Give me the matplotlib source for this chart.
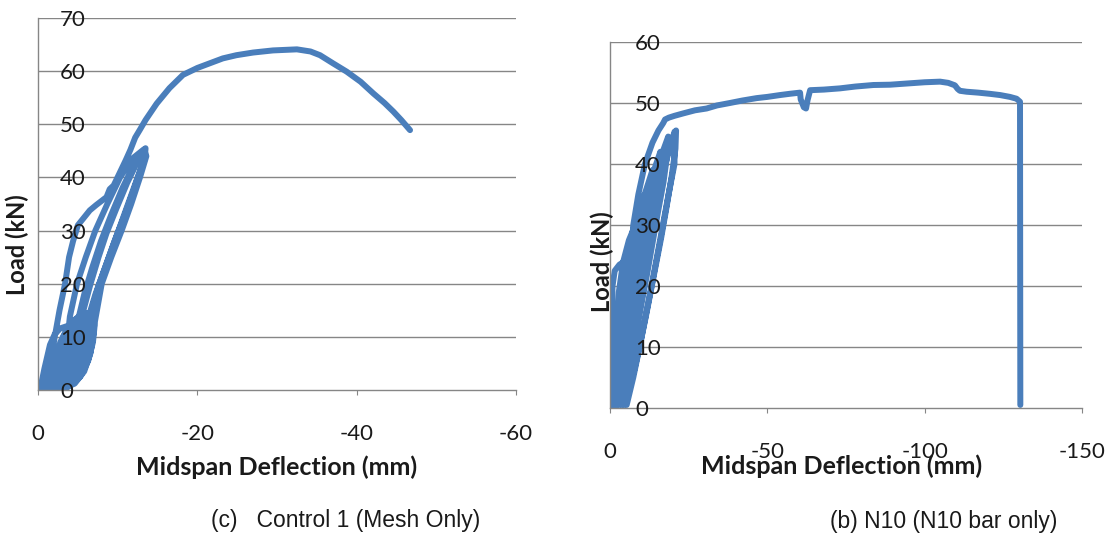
import numpy as np
import matplotlib
matplotlib.use("Agg")
import matplotlib.pyplot as plt

plt.rcParams["axes.unicode_minus"] = False

# (c) Control 1 - midspan deflection (mm) and load (kN)
defl_c = [0, -0.3, -0.8, -1.5, -2.1, -2.8, -4.0, -5.2, -6.2, -6.9,
          # small cycles up to ~14 kN
          -7.1, -6.9, -6.3, -5.3, -3.8, -2.2, -2.5, -3.0, -3.6, -4.6, -6.0, -6.9,
          -6.7, -6.3, -5.5, -4.4, -3.0, -1.8, -2.0, -2.5, -3.2, -4.2, -5.5, -6.8,
          -6.5, -5.9, -5.0, -3.9, -2.6, -1.5, -1.9, -2.8, -3.8, -5.0, -6.5,
          -6.2, -5.4, -4.4, -3.2, -2.0, -2.6, -3.6, -4.6, -5.6, -6.9,
          -7.0, -6.6, -5.8, -4.6, -3.2, -0.5, -2.2, -3.3, -4.4, -5.8, -7.0,
          -6.8, -6.0, -4.8, -3.4, -2.8,
          # cycles up to ~45 kN
          -3.2, -3.6, -4.0, -4.9, -6.0, -7.2, -8.7, -10.3, -11.8, -13.3,
          -13.6, -13.2, -12.8, -11.7, -10.5, -9.2, -8.0, -7.4, -6.8, -5.8, -4.4, -3.0,
          -3.6, -4.3, -5.0, -5.8, -6.8, -7.9, -9.2, -10.6, -11.9, -13.4,
          -13.0, -12.1, -10.9, -9.6, -8.4, -7.2, -6.2, -5.2, -4.2, -3.0,
          -3.9, -4.8, -5.7, -6.6, -7.6, -8.6, -9.8, -11.2, -12.5, -13.5,
          -13.4, -12.5, -11.3, -10.1, -8.9, -7.7, -6.5, -5.3, -4.0, -2.5, -1.2,
          # final loading
          -1.6, -2.1, -2.7, -3.4, -3.9, -4.4, -5.0, -5.7, -6.5, -7.3, -8.0,
          -8.6, -9.0, -9.5, -10.3, -11.0, -11.6, -12.2, -12.8, -13.5, -14.9,
          -16.5, -18.2, -20.0, -21.6, -23.2, -24.9, -27.0, -29.5, -32.5, -34.2,
          -35.4, -37.0, -38.75, -40.5, -42.1, -43.5, -44.6, -45.6, -46.7]
load_c = [0, 0.3, 4, 8.5, 10.5, 11.6, 12.2, 12.6, 13.2, 14.2,
          12, 9, 5.5, 2.5, 0.6, 0.3, 3, 7, 10.5, 13, 14.4, 14.5,
          11, 7.5, 4, 1.5, 0.4, 0.3, 3, 6.5, 10, 12.8, 14.2, 14.3,
          11.5, 8, 4.5, 2, 0.6, 0.3, 4.5, 9, 12, 13.6, 14.1,
          10.5, 6.5, 3.2, 1, 0.3, 4, 8, 11, 13, 14.2,
          11, 7, 3.5, 1.2, 0.3, 0.4, 4.5, 8.5, 11.5, 13.5, 14,
          10, 6, 2.5, 0.6, 0.3,
          3, 8, 13.8, 20, 25, 30, 35, 40, 43.5, 45.3,
          44, 42, 40, 35, 30, 25, 20, 15, 10, 5.5, 2, 0.5,
          3, 8, 13, 18, 23, 28, 33, 38, 42, 45,
          42, 38, 33, 28, 23, 18, 13, 8, 3.5, 0.5,
          4, 9.5, 15, 20, 25, 29.5, 34, 39, 43, 45.5,
          43.5, 40, 35, 30, 25, 20, 14, 8.5, 3.5, 0.6, 0.3,
          5, 10, 15, 20, 25, 28, 31, 32.3, 33.8, 34.8, 35.6,
          36.3, 37.8, 38.5, 41, 43.2, 45.2, 47.5, 49, 50.8, 53.9,
          56.8, 59.3, 60.6, 61.5, 62.4, 63.0, 63.5, 63.9, 64.1, 63.7,
          63.0, 61.5, 59.9, 58.0, 55.8, 54, 52.4, 50.8, 48.9]

# (b) N10
defl_b = [0, -0.2, -0.5, -0.8, -1.5, -3.0, -4.5,
          # cycles
          -4.2, -3.3, -2.3, -1.5, -1.0,
          -1.4, -2.0, -2.8, -4.2, -6.0, -8.0,
          -7.6, -6.3, -4.8, -3.4, -2.3, -1.3,
          -1.9, -2.8, -3.9, -5.5, -7.5, -9.3, -11.0,
          -10.6, -9.2, -7.5, -5.8, -4.2, -2.9, -1.8,
          -2.6, -3.7, -5.0, -6.8, -8.8, -11.0, -13.5,
          -13.2, -11.8, -10.0, -8.2, -6.5, -4.9, -3.5, -2.3,
          -3.3, -4.7, -6.3, -8.3, -10.5, -13.0, -16.0,
          -15.8, -14.5, -12.8, -11.0, -9.2, -7.5, -5.8, -4.3, -3.0,
          -4.2, -5.8, -7.6, -9.8, -12.2, -15.0, -18.5,
          -18.3, -17.0, -15.2, -13.5, -11.8, -10.0, -8.3, -6.6, -5.0, -3.8,
          -5.2, -7.0, -9.2, -11.6, -14.3, -17.5, -21.0,
          -20.8, -19.6, -18.0, -16.3, -14.8, -13.1, -11.4, -9.6, -7.6, -5.7, -4.5,
          -5.8, -7.4, -9.0, -10.8, -12.8, -15.0, -17.6, -20.5,
          -20.5, -18.6, -16.8, -15.0, -13.2, -11.3, -9.4, -7.4, -5.3,
          # final loading
          -5.6, -6.0, -6.5, -7.4, -9.0, -11.1, -13.5, -15.4, -16.9,
          -17.5, -18.7, -20.5, -23.3, -27.0, -30.7, -34.0, -38.1, -42.0, -46.6,
          -50.0, -54.0, -57.0, -60.4, -60.6, -61.6, -62.3, -62.8, -63.6, -68.0,
          -73.1, -78.0, -83.7, -89.0, -94.3, -100.0, -104.9, -107.5, -109.6, -110.5,
          -111.2, -113.3, -117.0, -120.8, -124.0, -127.1, -129.2, -130.3, -130.4]
load_b = [0, 5, 12, 20, 22.5, 23.5, 24,
          21, 16, 10.5, 5, 0.5,
          6, 13, 19, 24, 27.5, 30,
          27, 22, 16.5, 11, 6, 0.5,
          7, 14, 20, 25, 29.5, 32.5, 35,
          32, 27, 21.5, 16, 10.5, 5.5, 0.5,
          7, 14, 20, 25.5, 30.5, 35, 39,
          36.5, 31.5, 26, 20.5, 15, 10, 5, 0.5,
          7.5, 14.5, 21, 27, 32.5, 37.5, 42,
          40, 35.5, 30.5, 25, 19.5, 14, 9, 4.5, 0.5,
          8, 15.5, 22, 28.5, 34, 39.5, 44.5,
          42, 37, 32, 27, 22, 17, 12, 7, 3, 0.5,
          8.5, 16, 23.5, 30, 36, 41.5, 45.5,
          42.5, 38, 33, 28, 24, 19.5, 15, 10.5, 6, 2.5, 0.5,
          6, 12, 17.5, 23, 28.5, 34, 40, 45.3,
          40, 35, 30, 25, 20, 15, 10, 5, 0.5,
          8, 16, 23, 30, 35, 40, 43.5, 45.5, 46.7,
          47.3, 47.6, 47.9, 48.3, 48.8, 49.1, 49.6, 50.0, 50.4, 50.8,
          51.0, 51.3, 51.5, 51.7, 50.6, 49.3, 49.1, 50.5, 52.1, 52.2,
          52.4, 52.7, 52.95, 53.0, 53.2, 53.4, 53.5, 53.3, 52.9, 52.3,
          52.0, 51.85, 51.7, 51.5, 51.3, 51.0, 50.7, 50.2, 0.5]

line_color = "#4A7EBB"
grid_color = "#868686"
txt_color = "#1a1a1a"
font = "Lato"

fig = plt.figure(figsize=(11.08, 5.35), dpi=100)
ax1 = fig.add_axes([38 / 1108, 1 - 390 / 535, 478 / 1108, 372 / 535])
ax2 = fig.add_axes([610 / 1108, 1 - 408 / 535, 472 / 1108, 366 / 535])


def style_axes(ax, xmax, ymax, ystep, xstep, ylab_pad):
    ax.set_xlim(0, xmax)
    ax.set_ylim(0, ymax)
    yt = np.arange(0, ymax + 1, ystep)
    ax.set_yticks(yt)
    ax.set_xticks(np.arange(0, xmax - 1, -xstep))
    # gridlines behind the curve, axis (tick labels) in front of it
    ax.hlines(yt[1:], 0, xmax, color=grid_color, linewidth=1, zorder=0.5)
    ax.set_axisbelow(False)
    for s in ["top", "right"]:
        ax.spines[s].set_visible(False)
    for s in ["left", "bottom"]:
        ax.spines[s].set_color(grid_color)
        ax.spines[s].set_linewidth(1)
    ax.tick_params(axis="y", length=0, pad=-ylab_pad, labelsize=16,
                   labelcolor=txt_color)
    ax.tick_params(axis="x", length=3.6, color=grid_color, pad=21,
                   labelsize=16, labelcolor=txt_color)
    for lab in ax.get_yticklabels():
        lab.set_horizontalalignment("left")
    for lab in ax.get_xticklabels() + ax.get_yticklabels():
        lab.set_family(font)


ax1.plot(defl_c, load_c, color=line_color, linewidth=4.3, zorder=2,
         solid_joinstyle="round", solid_capstyle="round")
style_axes(ax1, -60, 70, 10, 20, 16)
ax1.text(0.5, -0.207, "Midspan Deflection (mm)", transform=ax1.transAxes,
         ha="center", va="center", fontsize=18, fontweight="bold",
         family=font, color=txt_color)
ax1.text(-0.044, 0.39, "Load (kN)", transform=ax1.transAxes, rotation=90,
         ha="center", va="center", fontsize=17, fontweight="bold",
         family=font, color=txt_color)

ax2.plot(defl_b, load_b, color=line_color, linewidth=4.3, zorder=2,
         solid_joinstyle="round", solid_capstyle="round")
style_axes(ax2, -150, 60, 10, 50, 18)
ax2.text(0.491, -0.158, "Midspan Deflection (mm)", transform=ax2.transAxes,
         ha="center", va="center", fontsize=18, fontweight="bold",
         family=font, color=txt_color)
ax2.text(-0.017, 0.399, "Load (kN)", transform=ax2.transAxes, rotation=90,
         ha="center", va="center", fontsize=17, fontweight="bold",
         family=font, color=txt_color)

fig.text(0.312, 0.028, "(c)   Control 1 (Mesh Only)", ha="center", va="center",
         fontsize=16.5, family="Liberation Sans", color=txt_color)
fig.text(0.8515, 0.026, "(b) N10 (N10 bar only)", ha="center", va="center",
         fontsize=16.5, family="Liberation Sans", color=txt_color)

fig.savefig("out.png", dpi=100)
